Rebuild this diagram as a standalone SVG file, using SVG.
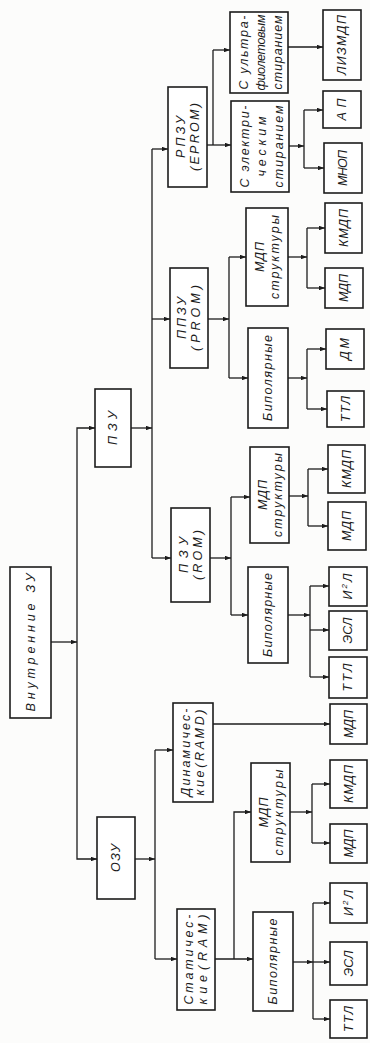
<svg xmlns="http://www.w3.org/2000/svg" width="370" height="1043" viewBox="0 0 370 1043">
  <defs>
    <style>
      .box { fill: #ffffff; stroke: #1c1c1c; stroke-width: 1.6; }
      .lbl { font-family: "Liberation Sans", "DejaVu Sans", sans-serif; font-style: italic; font-size: 12.5px; fill: #1c1c1c; text-anchor: middle; dominant-baseline: central; }
      .wire { fill: none; stroke: #1c1c1c; stroke-width: 1.3; }
      .arr { marker-end: url(#head); }
    </style>
    <marker id="head" viewBox="0 0 8 6" refX="8" refY="3" markerWidth="6" markerHeight="4.5" orient="auto" markerUnits="userSpaceOnUse">
      <path d="M0,0 L8,3 L0,6 Z" fill="#1c1c1c"/>
    </marker>
  </defs>

  <rect x="0" y="0" width="370" height="1043" fill="#fcfcfb"/>

  <!-- connectors -->
  <g id="connectors">
    <!-- root bus -->
    <path class="wire arr" d="M51,642 H77"/>
    <path class="wire arr" d="M77,642 V428 H95"/>
    <path class="wire arr" d="M77,642 V859 H97"/>

    <!-- ПЗУ bus -->
    <path class="wire arr" d="M131,428 H152"/>
    <path class="wire" d="M152,149 V558"/>
    <path class="wire arr" d="M152,149 H168"/>
    <path class="wire arr" d="M152,319 H170"/>
    <path class="wire arr" d="M152,558 H171"/>

    <!-- РПЗУ -->
    <path class="wire arr" d="M207,145 H231"/>
    <path class="wire" d="M213,50 V145"/>
    <path class="wire arr" d="M213,50 H230"/>
    <path class="wire arr" d="M288,47 H323"/>
    <path class="wire arr" d="M289,146 H304"/>
    <path class="wire" d="M304,110 V168"/>
    <path class="wire arr" d="M304,110 H323"/>
    <path class="wire arr" d="M304,168 H324"/>

    <!-- ППЗУ -->
    <path class="wire arr" d="M208,319 H229"/>
    <path class="wire" d="M229,257 V378"/>
    <path class="wire arr" d="M229,257 H246"/>
    <path class="wire arr" d="M229,378 H248"/>
    <path class="wire arr" d="M288,257 H307"/>
    <path class="wire" d="M307,228 V288"/>
    <path class="wire arr" d="M307,228 H325"/>
    <path class="wire arr" d="M307,288 H325"/>
    <path class="wire arr" d="M288,378 H307"/>
    <path class="wire" d="M307,349 V409"/>
    <path class="wire arr" d="M307,349 H326"/>
    <path class="wire arr" d="M307,409 H327"/>

    <!-- ПЗУ (ROM) -->
    <path class="wire arr" d="M210,558 H231"/>
    <path class="wire" d="M231,497 V615"/>
    <path class="wire arr" d="M231,497 H250"/>
    <path class="wire arr" d="M231,615 H248"/>
    <path class="wire arr" d="M289,496 H308"/>
    <path class="wire" d="M308,469 V526"/>
    <path class="wire arr" d="M308,469 H328"/>
    <path class="wire arr" d="M308,526 H328"/>
    <path class="wire arr" d="M288,615 H310"/>
    <path class="wire" d="M310,586 V677"/>
    <path class="wire arr" d="M310,586 H329"/>
    <path class="wire arr" d="M310,630 H329"/>
    <path class="wire arr" d="M310,677 H329"/>

    <!-- ОЗУ -->
    <path class="wire arr" d="M135,859 H155"/>
    <path class="wire" d="M155,750 V959"/>
    <path class="wire arr" d="M155,750 H173"/>
    <path class="wire arr" d="M155,959 H177"/>
    <path class="wire arr" d="M213,724 H330"/>
    <path class="wire arr" d="M215,959 H253"/>
    <path class="wire arr" d="M234,959 V812 H251"/>
    <path class="wire arr" d="M290,812 H312"/>
    <path class="wire" d="M312,784 V843"/>
    <path class="wire arr" d="M312,784 H330"/>
    <path class="wire arr" d="M312,843 H330"/>
    <path class="wire arr" d="M293,962 H313"/>
    <path class="wire" d="M313,903 V1019"/>
    <path class="wire arr" d="M313,903 H330"/>
    <path class="wire arr" d="M313,962 H330"/>
    <path class="wire arr" d="M313,1019 H330"/>
  </g>

  <!-- level 0 -->
  <g id="n-root"><rect class="box" x="10" y="567" width="41" height="151"/>
    <g transform="translate(30.5 642.5) rotate(-90)"><text class="lbl" textLength="138">Внутренние ЗУ</text></g></g>

  <!-- level 1 -->
  <g id="n-pzu"><rect class="box" x="95" y="389" width="36" height="78"/>
    <g transform="translate(113 428) rotate(-90)"><text class="lbl" textLength="34">ПЗУ</text></g></g>
  <g id="n-ozu"><rect class="box" x="97" y="817" width="38" height="82"/>
    <g transform="translate(116 858) rotate(-90)"><text class="lbl" textLength="28">ОЗУ</text></g></g>

  <!-- level 2 -->
  <g id="n-eprom"><rect class="box" x="168" y="87" width="39" height="100"/>
    <g transform="translate(187.5 137) rotate(-90)">
      <text class="lbl" y="-7" textLength="42">РПЗУ</text>
      <text class="lbl" y="7" textLength="68">(EPROM)</text></g></g>
  <g id="n-prom"><rect class="box" x="170" y="268" width="38" height="100"/>
    <g transform="translate(189 318) rotate(-90)">
      <text class="lbl" y="-7" textLength="42">ППЗУ</text>
      <text class="lbl" y="7" textLength="66">(PROM)</text></g></g>
  <g id="n-rom"><rect class="box" x="171" y="508" width="39" height="94"/>
    <g transform="translate(190.5 555) rotate(-90)">
      <text class="lbl" y="-7" textLength="36">ПЗУ</text>
      <text class="lbl" y="7" textLength="50">(ROM)</text></g></g>
  <g id="n-ramd"><rect class="box" x="173" y="703" width="40" height="99"/>
    <g transform="translate(193 752.5) rotate(-90)">
      <text class="lbl" y="-7" textLength="88">Динамичес-</text>
      <text class="lbl" y="7" textLength="86">кие(RAMD)</text></g></g>
  <g id="n-ram"><rect class="box" x="177" y="909" width="38" height="101"/>
    <g transform="translate(196 959.5) rotate(-90)">
      <text class="lbl" y="-7" textLength="90">Статичес-</text>
      <text class="lbl" y="7" textLength="90">кие(RAM)</text></g></g>

  <!-- level 3 -->
  <g id="n-uv"><rect class="box" x="230" y="12" width="58" height="81"/>
    <g transform="translate(260 52.5) rotate(-90)">
      <text class="lbl" y="-16" textLength="74">С ультра-</text>
      <text class="lbl" y="1" textLength="76">фиолетовым</text>
      <text class="lbl" y="18" textLength="74">стиранием</text></g></g>
  <g id="n-el"><rect class="box" x="231" y="101" width="58" height="91"/>
    <g transform="translate(261 146.5) rotate(-90)">
      <text class="lbl" y="-16" textLength="82">С электри-</text>
      <text class="lbl" y="1" textLength="60">ческим</text>
      <text class="lbl" y="18" textLength="82">стиранием</text></g></g>
  <g id="n-prom-mdp"><rect class="box" x="246" y="208" width="42" height="98"/>
    <g transform="translate(267 257) rotate(-90)">
      <text class="lbl" y="-7" textLength="30">МДП</text>
      <text class="lbl" y="8" textLength="84">структуры</text></g></g>
  <g id="n-prom-bip"><rect class="box" x="248" y="328" width="40" height="100"/>
    <g transform="translate(268 378) rotate(-90)"><text class="lbl" textLength="86">Биполярные</text></g></g>
  <g id="n-rom-mdp"><rect class="box" x="250" y="447" width="39" height="96"/>
    <g transform="translate(269.5 495) rotate(-90)">
      <text class="lbl" y="-7" textLength="30">МДП</text>
      <text class="lbl" y="8" textLength="84">структуры</text></g></g>
  <g id="n-rom-bip"><rect class="box" x="248" y="567" width="40" height="96"/>
    <g transform="translate(268 615) rotate(-90)"><text class="lbl" textLength="84">Биполярные</text></g></g>
  <g id="n-ram-mdp"><rect class="box" x="251" y="763" width="39" height="99"/>
    <g transform="translate(270.5 812.5) rotate(-90)">
      <text class="lbl" y="-7" textLength="30">МДП</text>
      <text class="lbl" y="8" textLength="86">структуры</text></g></g>
  <g id="n-ram-bip"><rect class="box" x="253" y="912" width="40" height="99"/>
    <g transform="translate(273 961.5) rotate(-90)"><text class="lbl" textLength="86">Биполярные</text></g></g>

  <!-- leaves -->
  <g id="l-lizmdp"><rect class="box" x="323" y="10" width="38" height="70"/>
    <g transform="translate(342 45) rotate(-90)"><text class="lbl" textLength="60">ЛИЗМДП</text></g></g>
  <g id="l-ap"><rect class="box" x="323" y="91" width="38" height="37"/>
    <g transform="translate(342 109.5) rotate(-90)"><text class="lbl" textLength="22">АП</text></g></g>
  <g id="l-mnop"><rect class="box" x="324" y="143" width="38" height="50"/>
    <g transform="translate(343 168) rotate(-90)"><text class="lbl" textLength="36">МНОП</text></g></g>
  <g id="l-kmdp1"><rect class="box" x="325" y="203" width="37" height="50"/>
    <g transform="translate(343.5 228) rotate(-90)"><text class="lbl" textLength="38">КМДП</text></g></g>
  <g id="l-mdp1"><rect class="box" x="325" y="268" width="38" height="40"/>
    <g transform="translate(344 288) rotate(-90)"><text class="lbl" textLength="28">МДП</text></g></g>
  <g id="l-dm"><rect class="box" x="326" y="329" width="38" height="40"/>
    <g transform="translate(345 349) rotate(-90)"><text class="lbl" textLength="22">ДМ</text></g></g>
  <g id="l-ttl1"><rect class="box" x="327" y="391" width="37" height="36"/>
    <g transform="translate(345.5 409) rotate(-90)"><text class="lbl" textLength="26">ТТЛ</text></g></g>
  <g id="l-kmdp2"><rect class="box" x="328" y="445" width="37" height="48"/>
    <g transform="translate(346.5 469) rotate(-90)"><text class="lbl" textLength="38">КМДП</text></g></g>
  <g id="l-mdp2"><rect class="box" x="328" y="502" width="38" height="48"/>
    <g transform="translate(347 526) rotate(-90)"><text class="lbl" textLength="30">МДП</text></g></g>
  <g id="l-i2l1"><rect class="box" x="329" y="567" width="38" height="39"/>
    <g transform="translate(348 586.5) rotate(-90)"><text class="lbl" textLength="26">И<tspan dy="-4" font-size="8">2</tspan><tspan dy="4">Л</tspan></text></g></g>
  <g id="l-esl1"><rect class="box" x="329" y="611" width="38" height="39"/>
    <g transform="translate(348 630.5) rotate(-90)"><text class="lbl" textLength="26">ЭСЛ</text></g></g>
  <g id="l-ttl2"><rect class="box" x="329" y="657" width="38" height="41"/>
    <g transform="translate(348 677.5) rotate(-90)"><text class="lbl" textLength="28">ТТЛ</text></g></g>
  <g id="l-mdp3"><rect class="box" x="330" y="704" width="37" height="40"/>
    <g transform="translate(348.5 724) rotate(-90)"><text class="lbl" textLength="28">МДП</text></g></g>
  <g id="l-kmdp3"><rect class="box" x="330" y="760" width="37" height="48"/>
    <g transform="translate(348.5 784) rotate(-90)"><text class="lbl" textLength="38">КМДП</text></g></g>
  <g id="l-mdp4"><rect class="box" x="330" y="824" width="37" height="39"/>
    <g transform="translate(348.5 843.5) rotate(-90)"><text class="lbl" textLength="28">МДП</text></g></g>
  <g id="l-i2l2"><rect class="box" x="330" y="883" width="37" height="40"/>
    <g transform="translate(348.5 903) rotate(-90)"><text class="lbl" textLength="26">И<tspan dy="-4" font-size="8">2</tspan><tspan dy="4">Л</tspan></text></g></g>
  <g id="l-esl2"><rect class="box" x="330" y="942" width="37" height="43"/>
    <g transform="translate(348.5 963.5) rotate(-90)"><text class="lbl" textLength="26">ЭСЛ</text></g></g>
  <g id="l-ttl3"><rect class="box" x="330" y="1000" width="37" height="38"/>
    <g transform="translate(348.5 1019) rotate(-90)"><text class="lbl" textLength="26">ТТЛ</text></g></g>
</svg>
